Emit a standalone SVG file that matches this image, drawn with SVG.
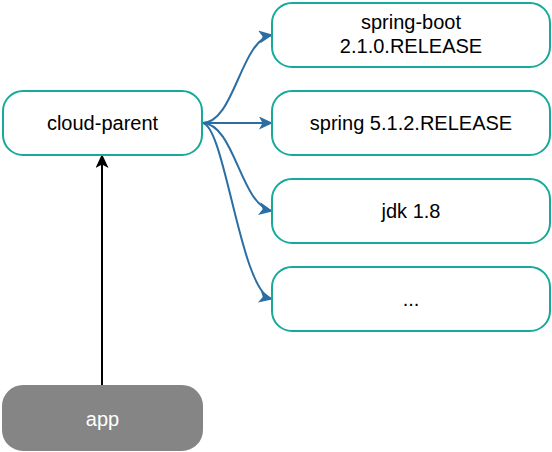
<svg xmlns="http://www.w3.org/2000/svg" width="552" height="452" viewBox="0 0 552 452">
<style>
.box{fill:#ffffff;stroke:#17aa9a;stroke-width:2}
.app{fill:#858585;stroke:#858585;stroke-width:2}
.t{font-family:"Liberation Sans",Arial,sans-serif;font-size:20px;fill:#000000;text-anchor:middle}
.tw{font-family:"Liberation Sans",Arial,sans-serif;font-size:20px;fill:#ffffff;text-anchor:middle}
.edge{fill:none;stroke:#2a6ea3;stroke-width:2}
.black{fill:none;stroke:#000000;stroke-width:2}
</style>
<defs>
<marker id="ab" markerUnits="userSpaceOnUse" markerWidth="15" markerHeight="13" refX="13" refY="6.5" orient="auto" viewBox="0 0 15 13">
<path d="M0,0 L14,6.5 L0,13 L3.5,6.5 Z" fill="#2a6ea3"/>
</marker>
<marker id="ak" markerUnits="userSpaceOnUse" markerWidth="15" markerHeight="13" refX="13" refY="6.5" orient="auto" viewBox="0 0 15 13">
<path d="M0,0 L14,6.5 L0,13 L3.5,6.5 Z" fill="#000000"/>
</marker>
</defs>
<g id="connectors">
<path class="edge" d="M202,123 C235,123 240,40 272,35" marker-end="url(#ab)"/>
<path class="edge" d="M202,123 L272,123" marker-end="url(#ab)"/>
<path class="edge" d="M202,123 C235,123 240,205 272,211" marker-end="url(#ab)"/>
<path class="edge" d="M202,123 C225,123 240,292 272,299" marker-end="url(#ab)"/>
<path class="black" d="M102,386 L102,155" marker-end="url(#ak)"/>
</g>
<g id="cloud-parent">
<rect class="box" x="3" y="91" width="199" height="64" rx="20" ry="20"/>
<text class="t" x="102.5" y="130">cloud-parent</text>
</g>
<g id="spring-boot">
<rect class="box" x="272" y="3" width="278" height="64" rx="20" ry="20"/>
<text class="t" x="411" y="29">spring-boot</text>
<text class="t" x="411" y="53">2.1.0.RELEASE</text>
</g>
<g id="spring">
<rect class="box" x="272" y="91" width="278" height="64" rx="20" ry="20"/>
<text class="t" x="411" y="130">spring 5.1.2.RELEASE</text>
</g>
<g id="jdk">
<rect class="box" x="272" y="179" width="278" height="64" rx="20" ry="20"/>
<text class="t" x="411" y="218">jdk 1.8</text>
</g>
<g id="more">
<rect class="box" x="272" y="267" width="278" height="64" rx="20" ry="20"/>
<text class="t" x="411" y="306">...</text>
</g>
<g id="app">
<rect class="app" x="3" y="386" width="199" height="64" rx="20" ry="20"/>
<text class="tw" x="102.5" y="426">app</text>
</g>
</svg>
